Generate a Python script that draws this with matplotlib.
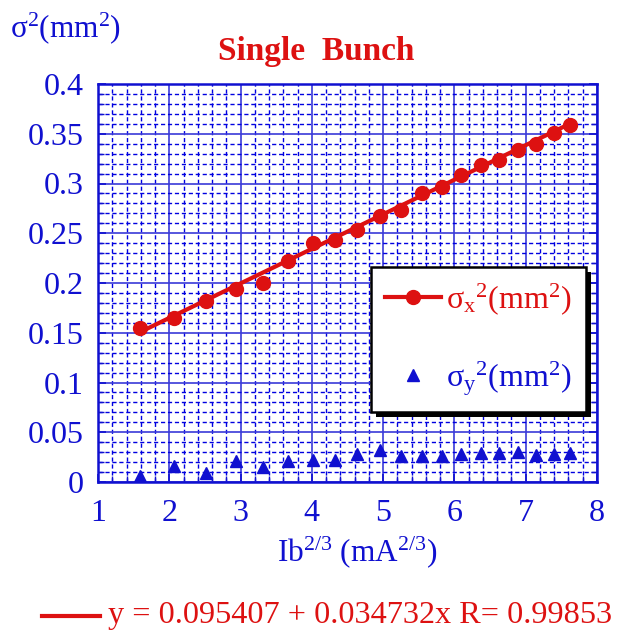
import matplotlib
matplotlib.use("Agg")
import matplotlib.pyplot as plt
import numpy as np
from matplotlib.lines import Line2D
from matplotlib.patches import Rectangle
from matplotlib.ticker import MultipleLocator

plt.rcParams['font.family'] = ['Liberation Serif', 'DejaVu Serif']
plt.rcParams['mathtext.fontset'] = 'custom'
plt.rcParams['mathtext.rm'] = 'Liberation Serif'
plt.rcParams['mathtext.it'] = 'Liberation Serif:italic'
plt.rcParams['mathtext.bf'] = 'Liberation Serif:bold'

# Data
ib23 = [1.59, 2.07, 2.52, 2.94, 3.31, 3.67, 4.01, 4.33, 4.64, 4.95,
        5.25, 5.54, 5.82, 6.09, 6.37, 6.62, 6.89, 7.14, 7.40, 7.62]
sigx2 = [0.155, 0.165, 0.182, 0.194, 0.200, 0.222, 0.240, 0.243, 0.253, 0.267,
         0.273, 0.290, 0.296, 0.309, 0.319, 0.324, 0.334, 0.340, 0.351, 0.359]
sigy2 = [0.006, 0.016, 0.009, 0.021, 0.015, 0.021, 0.022, 0.022, 0.028, 0.032,
         0.026, 0.026, 0.026, 0.028, 0.029, 0.029, 0.030, 0.027, 0.028, 0.029]
fit_a = 0.095407
fit_b = 0.034732
fit_r = 0.99853
xticks = [1, 2, 3, 4, 5, 6, 7, 8]
yticks = [0, 0.05, 0.1, 0.15, 0.2, 0.25, 0.3, 0.35, 0.4]
yticklabels = ['0', '0.05', '0.1', '0.15', '0.2', '0.25', '0.3', '0.35', '0.4']

BLUE = '#1010d0'
RED = '#dd1111'

fig = plt.figure(figsize=(6.18, 6.35), dpi=100)
ax = fig.add_axes([98/618, 1-482/635, (597-98)/618, (482-84)/635])

ax.set_xlim(1, 8)
ax.set_ylim(0, 0.4)
ax.set_xticks(xticks)
ax.set_yticks(yticks)
ax.set_yticklabels(yticklabels)
ax.xaxis.set_minor_locator(MultipleLocator(0.2))
ax.yaxis.set_minor_locator(MultipleLocator(0.01))

ax.grid(which='major', color='#3a3ad8', linestyle='-', linewidth=1.2, zorder=0)
ax.grid(which='minor', color='#0000e0', linestyle=(0, (3, 2)), linewidth=1.0, zorder=0)
ax.set_axisbelow(True)

for s in ax.spines.values():
    s.set_color(BLUE)
    s.set_linewidth(1.8)

ax.tick_params(which='both', direction='in', colors=BLUE, top=False, right=True,
               labelsize=23)
ax.tick_params(axis='y', which='major', pad=10)
ax.tick_params(axis='x', which='major', pad=12)
ax.tick_params(which='major', length=6, width=1.2)
ax.tick_params(which='minor', length=4, width=1.0)

xs = np.array([ib23[0], ib23[-1]])
ax.plot(xs, fit_a + fit_b * xs, color=RED, linewidth=3, zorder=3)
ax.plot(ib23, sigx2, 'o', color=RED, markersize=10, zorder=4)
ax.plot(ib23, sigy2, '^', color=BLUE, markersize=9, linestyle='none', zorder=4)

handles = [Line2D([], [], color=RED, marker='o', linewidth=3, markersize=10),
           Line2D([], [], color=BLUE, marker='^', linestyle='none', markersize=9)]
labels = [r'σ$_\mathrm{x}$$^2$(mm$^2$)', r'σ$_\mathrm{y}$$^2$(mm$^2$)']
leg = ax.legend(handles, labels, loc='upper left', bbox_to_anchor=(0.547, 0.540),
                fontsize=23, frameon=True, fancybox=False, shadow=False, framealpha=1,
                edgecolor='black', handlelength=1.75, labelspacing=1.3,
                borderpad=0.45, handletextpad=0.15, borderaxespad=0)
leg.get_frame().set_linewidth(1.8)
leg.set_zorder(6)
leg.get_texts()[0].set_color(RED)
leg.get_texts()[1].set_color(BLUE)

fig.text(10/618, 1-28/635, r'σ$^2$(mm$^2$)', color=BLUE, fontsize=22.5, va='center', ha='left')
fig.text(316/618, 1-60/635, 'Single  Bunch', color=RED, fontsize=24, fontweight='bold',
         va='baseline', ha='center')
fig.text(357/618, 1-552/635, r'Ib$^{2/3}$ (mA$^{2/3}$)', color=BLUE, fontsize=22.5,
         va='center', ha='center')

fig.add_artist(Line2D([42/618, 100/618], [1-616/635, 1-616/635], color=RED, linewidth=3))
fig.text(108/618, 1-616/635,
         f'y = {fit_a:.6f} + {fit_b:.6f}x R= {fit_r:.5f}',
         color=RED, fontsize=23.2, va='center', ha='left')

# solid black drop shadow behind the legend box
fig.canvas.draw()
bb = leg.get_window_extent()
off = 5
inv = ax.transAxes.inverted()
(x0, y0), (x1, y1) = inv.transform([(bb.x0 + off, bb.y0 - off), (bb.x1 + off, bb.y1 - off)])
ax.add_patch(Rectangle((x0, y0), x1 - x0, y1 - y0, transform=ax.transAxes,
                       facecolor='black', edgecolor='none', zorder=5.5, clip_on=False))

fig.savefig('out.png', dpi=100)
